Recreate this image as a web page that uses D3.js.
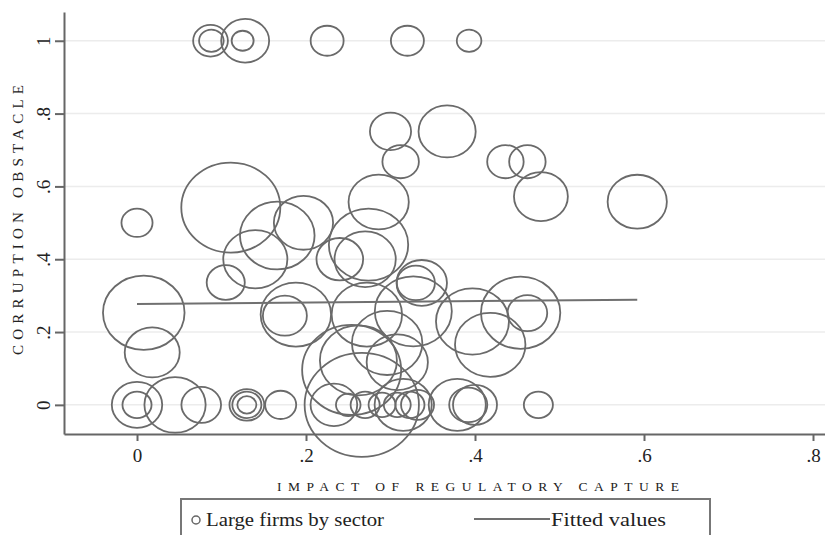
<!DOCTYPE html>
<html>
<head>
<meta charset="utf-8">
<script src="https://cdn.jsdelivr.net/npm/d3@7"></script>
<style>
  body { margin: 0; background: #fff; }
  text { font-family: "Liberation Serif", "DejaVu Serif", serif; fill: #222; }
</style>
</head>
<body>
<svg width="825" height="535"></svg>
<script>
// large firms by sector: capture impact, corruption obstacle, firm weight
const capture = [
  0.087, 0.088, 0.128, 0.125, 0.225, 0.320, 0.393,
  0.300, 0.367, 0.312, 0.436, 0.462, 0.478, 0.592, 0.286, 0.111,
  0.000, 0.197, 0.166, 0.274, 0.140, 0.240, 0.270, 0.337, 0.330, 0.105,
  0.008, 0.018, 0.188, 0.175, 0.272, 0.327, 0.296, 0.308, 0.262, 0.254,
  0.397, 0.418, 0.454, 0.462,
  0.000, 0.000, 0.045, 0.076, 0.130, 0.130, 0.130, 0.170, 0.233, 0.250,
  0.270, 0.290, 0.308, 0.323, 0.332, 0.315, 0.266, 0.379, 0.392, 0.400, 0.475
];
const obstacle = [
  1, 1, 1, 1, 1, 1, 1,
  0.751, 0.751, 0.668, 0.668, 0.668, 0.572, 0.558, 0.557, 0.542,
  0.500, 0.500, 0.465, 0.440, 0.400, 0.400, 0.400, 0.335, 0.335, 0.336,
  0.253, 0.144, 0.248, 0.245, 0.248, 0.257, 0.170, 0.117, 0.122, 0.096,
  0.229, 0.165, 0.253, 0.252,
  0, 0, 0, 0, 0, 0, 0, 0, 0, 0,
  0, 0, 0, 0, 0, 0, 0, 0, 0, 0, 0
];
const weight = [
  10, 5, 19, 4, 9, 9, 5,
  14, 27, 11, 11, 11, 24, 29, 30, 81,
  8, 29, 46, 52, 34, 18, 31, 21, 12, 12,
  55, 25, 41, 16, 41, 49, 41, 31, 49, 81,
  44, 41, 52, 13,
  21, 7, 31, 13, 10, 7, 3, 8, 18, 5,
  7, 6, 6, 7, 9, 27, 108, 27, 12, 16, 7
];

// fitted values line
const fitX = [0, 0.592];
const fitY = [0.277, 0.289];

const xTicks = [0, 0.2, 0.4, 0.6, 0.8];
const yTicks = [0, 0.2, 0.4, 0.6, 0.8, 1];

const points = capture.map((c, i) => ({ x: c, y: obstacle[i], w: weight[i] }));

const svg = d3.select("svg");

const x = d3.scaleLinear().domain([-0.0864, 0.8142]).range([64, 825]);
const y = d3.scaleLinear().domain([-0.08, 1.079]).range([434, 12]);
const r = d3.scaleSqrt().domain([0, 100]).range([0, 50]);
const stretch = 1.1; // picture is a bit wider than tall

const fmt = (d) => (d === 0 ? "0" : d === 1 ? "1" : String(d).replace(/^0/, ""));

// grid
svg
  .append("g")
  .selectAll("line")
  .data(yTicks)
  .enter()
  .append("line")
  .attr("x1", 64)
  .attr("x2", 825)
  .attr("y1", (d) => y(d))
  .attr("y2", (d) => y(d))
  .attr("stroke", "#ececec")
  .attr("stroke-width", 1.5);

// bubbles
svg
  .append("g")
  .selectAll("ellipse")
  .data(points)
  .enter()
  .append("ellipse")
  .attr("cx", (d) => x(d.x))
  .attr("cy", (d) => y(d.y))
  .attr("rx", (d) => r(d.w) * stretch)
  .attr("ry", (d) => r(d.w))
  .attr("fill", "none")
  .attr("stroke", "#6a6a6a")
  .attr("stroke-width", 1.8);

// fitted line
svg
  .append("path")
  .datum(fitX.map((v, i) => [v, fitY[i]]))
  .attr("d", d3.line().x((d) => x(d[0])).y((d) => y(d[1])))
  .attr("fill", "none")
  .attr("stroke", "#707070")
  .attr("stroke-width", 2);

// axes
const xAxis = svg
  .append("g")
  .attr("transform", "translate(0,434)")
  .call(d3.axisBottom(x).tickValues(xTicks).tickFormat(fmt).tickSize(7).tickSizeOuter(0).tickPadding(8));
const yAxis = svg
  .append("g")
  .attr("transform", "translate(64,0)")
  .call(d3.axisLeft(y).tickValues(yTicks).tickFormat(fmt).tickSize(9).tickSizeOuter(0));

svg.selectAll(".domain, .tick line").attr("stroke", "#666").attr("stroke-width", 2);
xAxis.selectAll("text").attr("font-size", 19).attr("fill", "#222");
yAxis
  .selectAll("text")
  .attr("x", null)
  .attr("dy", null)
  .attr("font-size", 19)
  .attr("fill", "#222")
  .attr("text-anchor", "middle")
  .attr("transform", "translate(-14,0) rotate(-90)");

// axis titles
svg
  .append("text")
  .attr("x", 478)
  .attr("y", 491)
  .attr("text-anchor", "middle")
  .attr("font-size", 13.5)
  .attr("textLength", 402)
  .attr("lengthAdjust", "spacing")
  .text("IMPACT OF REGULATORY CAPTURE");
svg
  .append("text")
  .attr("transform", "translate(23,220) rotate(-90)")
  .attr("text-anchor", "middle")
  .attr("font-size", 15)
  .attr("textLength", 270)
  .attr("lengthAdjust", "spacing")
  .text("CORRUPTION OBSTACLE");

// legend
const legend = svg.append("g");
legend
  .append("rect")
  .attr("x", 181)
  .attr("y", 499)
  .attr("width", 529)
  .attr("height", 60)
  .attr("fill", "#fff")
  .attr("stroke", "#777")
  .attr("stroke-width", 2);
legend
  .append("circle")
  .attr("cx", 196)
  .attr("cy", 520)
  .attr("r", 4)
  .attr("fill", "none")
  .attr("stroke", "#666")
  .attr("stroke-width", 1.5);
legend
  .append("text")
  .attr("x", 206)
  .attr("y", 526)
  .attr("font-size", 19)
  .attr("textLength", 178)
  .attr("lengthAdjust", "spacingAndGlyphs")
  .text("Large firms by sector");
legend
  .append("line")
  .attr("x1", 474)
  .attr("x2", 550)
  .attr("y1", 519)
  .attr("y2", 519)
  .attr("stroke", "#707070")
  .attr("stroke-width", 2);
legend
  .append("text")
  .attr("x", 551)
  .attr("y", 526)
  .attr("font-size", 19)
  .attr("textLength", 115)
  .attr("lengthAdjust", "spacingAndGlyphs")
  .text("Fitted values");
</script>
</body>
</html>
